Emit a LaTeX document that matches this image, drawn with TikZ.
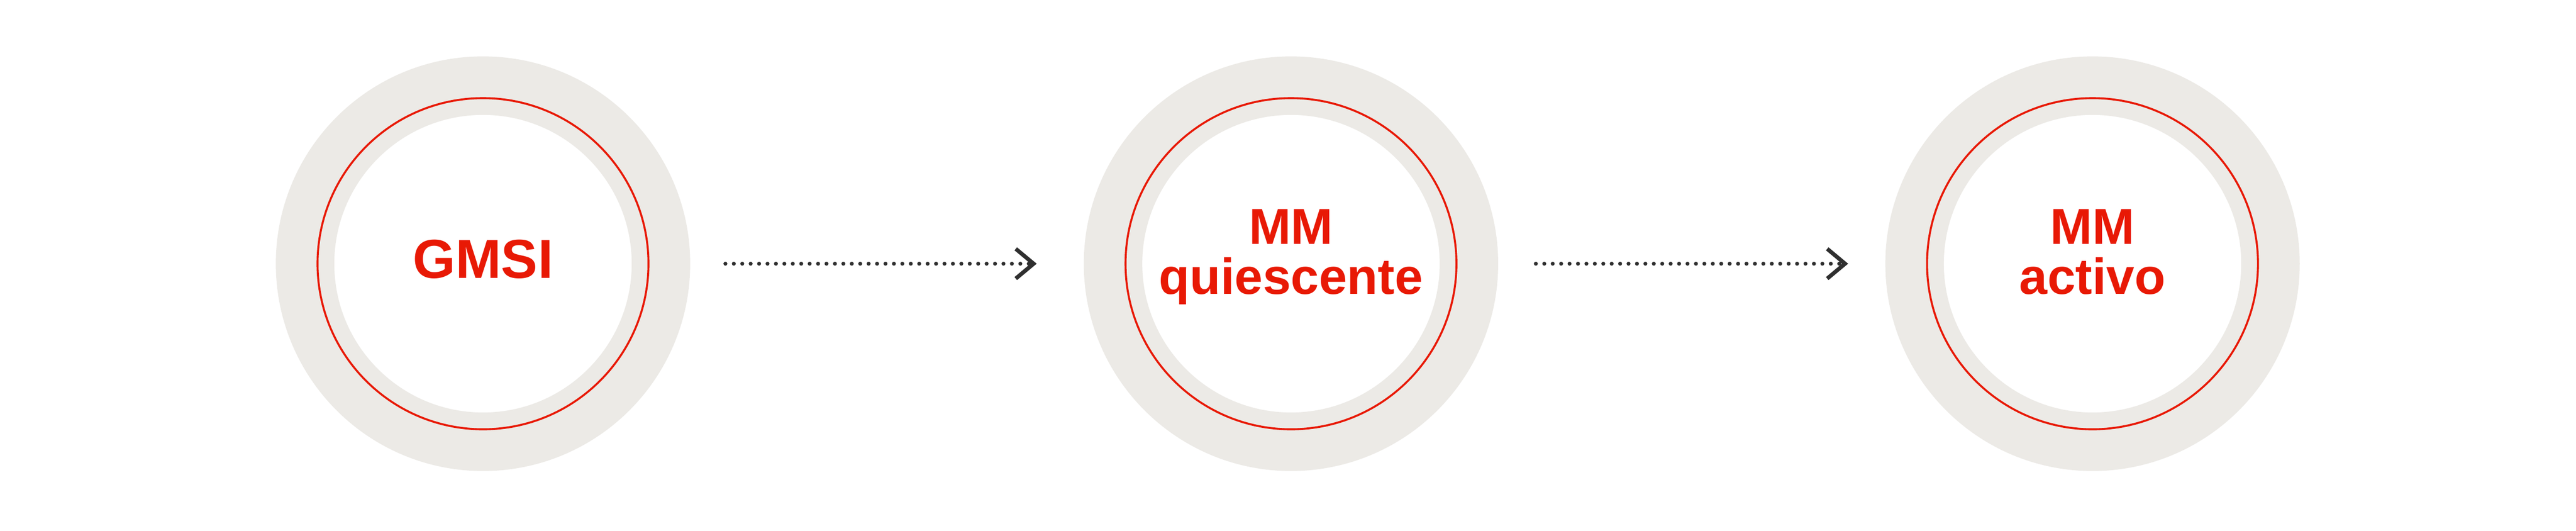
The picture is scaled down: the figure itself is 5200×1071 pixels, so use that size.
\documentclass[tikz,border=0pt]{standalone}
\usepackage{fontspec}
\setmainfont{Liberation Sans}
\usepackage{tikz}
\usetikzlibrary{arrows.meta}
\definecolor{ringgray}{RGB}{236,234,230}
\definecolor{stagered}{RGB}{232,25,5}
\definecolor{arrowgray}{RGB}{47,47,47}
\tikzset{>=stealth}
\tikzset{
  stage/.style={circle,draw=ringgray,fill=white,line width=1.18cm,minimum size=7.18cm,inner sep=0pt},
  stage ring/.style={draw=stagered,line width=0.04cm},
  stage name/.style={text=stagered,inner sep=0pt,font=\bfseries\fontsize{31.5pt}{31.5pt}\selectfont},
  stage names/.style={text=stagered,inner sep=0pt,align=center,font=\bfseries\fontsize{29pt}{28.45pt}\selectfont},
  flow/.style={arrowgray,line width=0.08cm,line cap=round,dash pattern=on 0pt off 0.17cm,
    -{Straight Barb[length=0.36cm,width=0.6cm]}}
}

\begin{document}
\begin{tikzpicture}[x=0.01cm,y=0.01cm]
    \useasboundingbox (0,0) rectangle (5200,1071);
    % the three stages
    \node[stage] (gmsi) at (975,539) {};
    \node[stage] (mmq) at (2606,539) {};
    \node[stage] (mma) at (4224,539) {};
    \draw[stage ring] (gmsi) circle (334);
    \draw[stage ring] (mmq) circle (334);
    \draw[stage ring] (mma) circle (334);
    \node[stage name,anchor=base] (gmsi text) at (975,510) {GMSI};
    \node[stage names,anchor=north] (mmq text) at (2606,649) {MM\\quiescente};
    \node[stage names,anchor=north] (mma text) at (4224,649) {MM\\activo};
    % progression
    \draw[flow,shorten <=0.71cm,shorten >=0.95cm] (gmsi) -- (mmq);
    \draw[flow,shorten <=0.76cm,shorten >=0.75cm] (mmq) -- (mma);
\end{tikzpicture}
\end{document}
